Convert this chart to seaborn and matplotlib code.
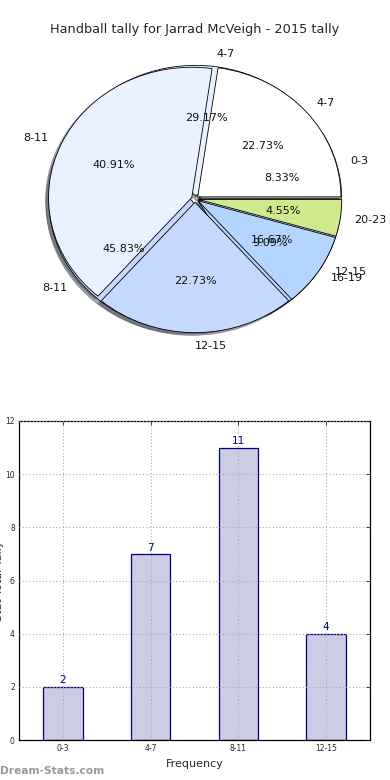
import matplotlib
matplotlib.use("Agg")
import matplotlib.pyplot as plt
import seaborn as sns
import pandas as pd

# ---- data ----
title = "Handball tally for Jarrad McVeigh - 2015 tally"
pie_a_labels = ["4-7", "8-11", "12-15", "16-19", "20-23"]
pie_a_values = [5, 9, 5, 2, 1]
pie_b_labels = ["0-3", "4-7", "8-11", "12-15"]
pie_b_values = [2, 7, 11, 4]
bar_categories = ["0-3", "4-7", "8-11", "12-15"]
bar_values = [2, 7, 11, 4]
y_ticks = [0, 2, 4, 6, 8, 10, 12]

sns.set_style("white")
plt.rcParams["font.family"] = ["DejaVu Sans"]

slice_colors = ["#ffffff", "#e9f0ff", "#c5d9ff", "#b4d5ff", "#cfea8c"]

fig = plt.figure(figsize=(3.9, 7.8), dpi=100)

# ---- pie ----
W, H = 390, 780
axp = fig.add_axes([16 / W, 1 - 362 / H, 358 / W, 326 / H])
for labels, values in [(pie_b_labels, pie_b_values), (pie_a_labels, pie_a_values)]:
    axp.pie(values, labels=labels, colors=slice_colors[:len(values)],
            explode=[0.025] * len(values),
            shadow=dict(ox=-0.015, oy=-0.015, alpha=0.45),
            startangle=0,
            autopct="%.2f%%", pctdistance=0.6, labeldistance=1.1,
            wedgeprops=dict(edgecolor="black", linewidth=0.6),
            textprops=dict(fontsize=8, color="#111111"))
axp.set_aspect("auto")
axp.set_xlim(-1.25, 1.25)
axp.set_ylim(-1.25, 1.25)
fig.text(0.5, 1 - 30 / H, title, ha="center", va="center", fontsize=9.3)

# ---- bar ----
axb = fig.add_axes([19 / W, 1 - 740 / H, 351 / W, 319 / H])
df = pd.DataFrame({"cat": bar_categories, "val": bar_values})
sns.barplot(data=df, x="cat", y="val", color="#ccccE5", edgecolor="#000080",
            linewidth=0.9, width=0.45, saturation=1, ax=axb)
for c in axb.containers:
    axb.bar_label(c, color="#000080", fontsize=7.5, padding=1)
axb.set_xlim(-0.5, 3.5)
axb.set_ylim(0, 12)
axb.set_yticks(y_ticks)
axb.tick_params(axis="both", direction="in", length=3, labelsize=5.5,
                top=True, right=True, width=0.6, pad=3)
axb.grid(True, linestyle=(0, (1, 2)), color="#aaaaaa", linewidth=0.8)
axb.set_axisbelow(False)
for s in axb.spines.values():
    s.set_linewidth(0.9)
    s.set_color("black")
axb.set_xlabel("Frequency", fontsize=8, labelpad=4)
axb.set_ylabel("Stat Total Tally", fontsize=8)
axb.yaxis.set_label_coords(-0.042, 0.5)

fig.text(0.0, 1 - 771 / H, "Dream-Stats.com", ha="left", va="center",
         fontsize=7.7, color="#999999", fontweight="bold")

fig.savefig("out.png", dpi=100)
